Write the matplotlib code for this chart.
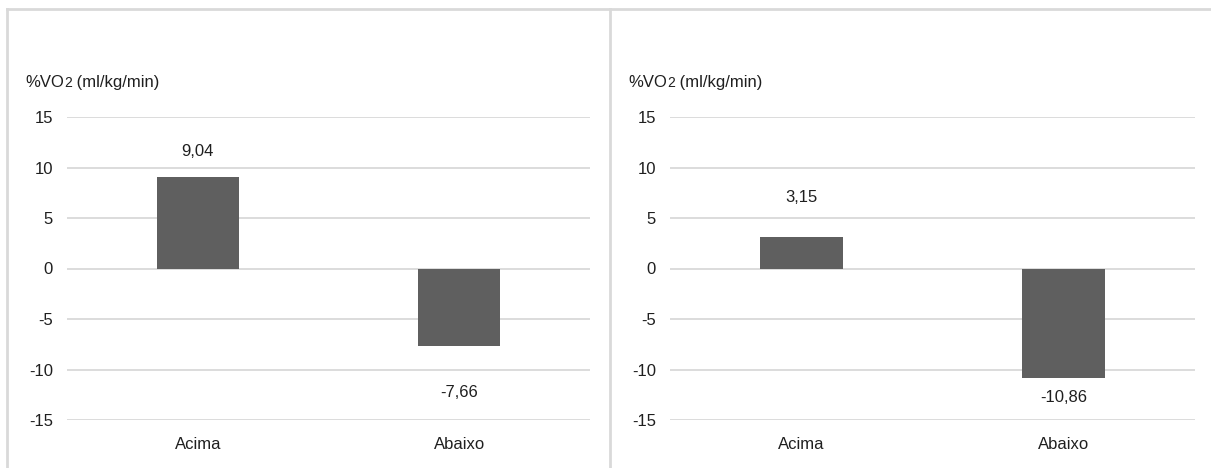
import matplotlib
matplotlib.use("Agg")
import matplotlib.pyplot as plt
from matplotlib.lines import Line2D

plt.rcParams['font.family'] = ['Liberation Sans Narrow', 'Liberation Sans', 'DejaVu Sans']

categories = ["Acima", "Abaixo"]
left_values = [9.04, -7.66]
right_values = [3.15, -10.86]
yticks = [-15, -10, -5, 0, 5, 10, 15]
# vertical placement of each value label, in data units
left_label_y = [11.6, -12.25]
right_label_y = [7.05, -12.75]

BAR = "#5f5f5f"
GRID = "#d9d9d9"
TEXT = "#1f1f1f"

W, H = 1211, 468
fig = plt.figure(figsize=(W / 100, H / 100), dpi=100)


def fx(px):
    return px / W


def fy(py):
    return 1 - py / H


def panel(x0, x1, values, label_y):
    ax = fig.add_axes([fx(x0), fy(420), fx(x1 - x0), fy(117) - fy(420)])
    xs = range(len(categories))
    ax.bar(xs, values, width=0.315, color=BAR, zorder=3)
    ax.set_xlim(-0.5, len(categories) - 0.5)
    ax.set_ylim(-15, 15)
    ax.set_yticks(yticks)
    ax.set_yticklabels([str(t) for t in yticks])
    ax.set_xticks(list(xs))
    ax.set_xticklabels(categories)
    ax.grid(axis="y", color=GRID, linewidth=1.3, zorder=0)
    for s in ax.spines.values():
        s.set_visible(False)
    ax.tick_params(axis="y", length=0, pad=10, labelsize=12, labelcolor=TEXT)
    ax.tick_params(axis="x", length=0, pad=12, labelsize=12, labelcolor=TEXT)
    for x, v, ly in zip(xs, values, label_y):
        ax.text(x, ly, f"{v:.2f}".replace(".", ","), ha="center", va="center",
                fontsize=12, color=TEXT)
    return ax


panel(67, 590, left_values, left_label_y)
panel(670, 1195, right_values, right_label_y)

renderer = fig.canvas.get_renderer()


def unit_label(x_px, y_px):
    # "%VO" + smaller "2" on the same baseline + " (ml/kg/min)"
    parts = [("%VO", 12), ("2", 10), (" (ml/kg/min)", 12)]
    x = fx(x_px)
    for s, size in parts:
        t = fig.text(x, fy(y_px), s, ha="left", va="baseline", fontsize=size, color=TEXT)
        ext = t.get_window_extent(renderer)
        x = ext.x1 / W


unit_label(25, 87)
unit_label(628, 87)

# panel frames
for xs_, ys_ in [([fx(7), fx(1211)], [fy(8.5), fy(8.5)]),
                 ([fx(7), fx(7)], [fy(8.5), 0]),
                 ([fx(609.5), fx(609.5)], [fy(8.5), 0])]:
    fig.add_artist(Line2D(xs_, ys_, color=GRID, linewidth=2, transform=fig.transFigure))

fig.savefig("out.png", dpi=100, facecolor="white")
